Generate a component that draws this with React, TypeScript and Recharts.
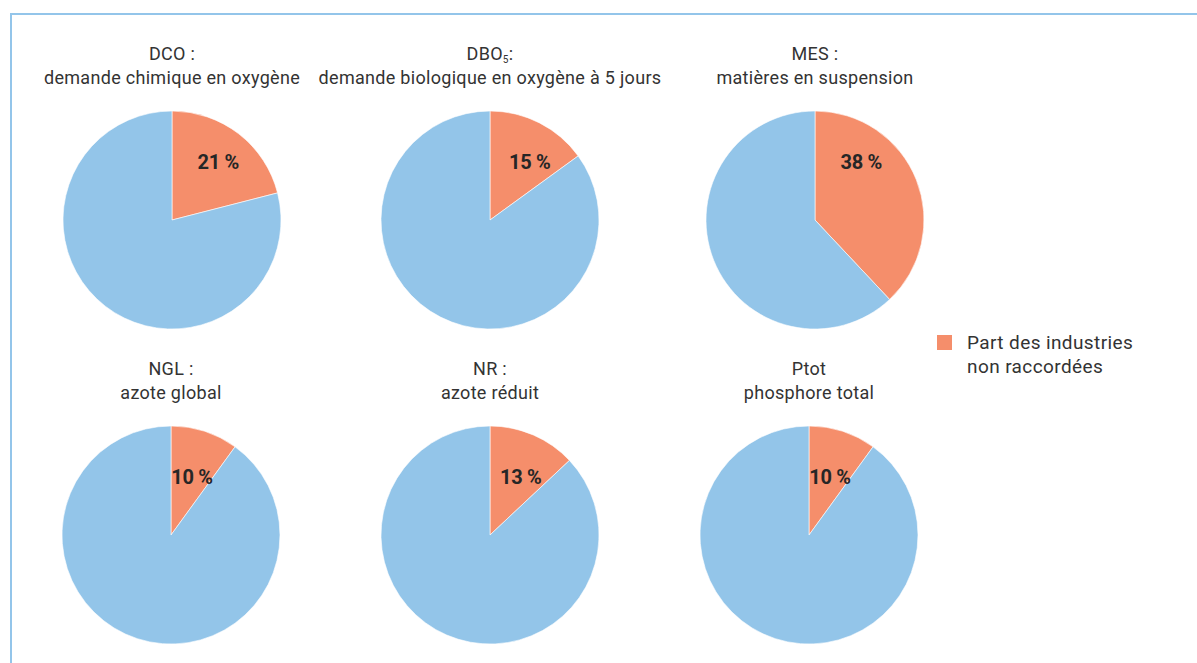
import React from "react";
import { PieChart, Pie, Cell, Legend } from "recharts";

// ---- Data ----
const pollutantCodes = ["DCO", "DBO5", "MES", "NGL", "NR", "Ptot"];
const titleFirstLines = ["DCO :", "DBO5:", "MES :", "NGL :", "NR :", "Ptot"];
const titleSecondLines = [
  "demande chimique en oxygène",
  "demande biologique en oxygène à 5 jours",
  "matières en suspension",
  "azote global",
  "azote réduit",
  "phosphore total",
];
const nonConnectedShare = [21, 15, 38, 10, 13, 10];
const sliceNames = ["Part des industries non raccordées", "Autres"];
const legendLines = ["Part des industries", "non raccordées"];

// ---- Styles / layout ----
const W = 1197;
const H = 663;
const ORANGE = "#f58e6b";
const BLUE = "#93c5e9";
const FRAME = "#93c5ea";
const FONT = "Roboto, 'Noto Sans', sans-serif";
const RADIUS = 109;
const centers = [
  [172, 220],
  [490, 220],
  [815, 220],
  [171, 535],
  [490, 535],
  [809, 535],
];

const renderLabel = (props: any) => {
  const { cx, cy, outerRadius, percent, index, value } = props;
  if (index !== 0) return null;
  const h = outerRadius * 0.53;
  const theta = percent * 2 * Math.PI;
  const chord = Math.sqrt(outerRadius * outerRadius - h * h);
  const right = theta < Math.PI / 2 ? Math.min(h * Math.tan(theta), chord) : chord;
  return (
    <text
      x={cx + right / 2}
      y={cy - h}
      textAnchor="middle"
      dominantBaseline="central"
      fill="#262626"
      fontFamily={FONT}
      fontWeight={700}
      fontSize={20}
      letterSpacing={-0.3}
    >
      {`${value} %`}
    </text>
  );
};

const LegendContent = () => (
  <div style={{ display: "flex", alignItems: "flex-start", fontFamily: FONT }}>
    <div style={{ width: 15, height: 15, background: ORANGE, marginTop: 4, marginRight: 15 }} />
    <div style={{ fontSize: 19, lineHeight: "24px", color: "#333", letterSpacing: 0.4, whiteSpace: "nowrap" }}>
      {legendLines.map((l, i) => (
        <div key={i}>{l}</div>
      ))}
    </div>
  </div>
);

function Title({ i }: { i: number }) {
  const [cx, cy] = centers[i];
  const first = titleFirstLines[i];
  const firstNode =
    first === "DBO5:" ? (
      <span>
        DBO<sub style={{ fontSize: 10, verticalAlign: "-3px", lineHeight: 0 }}>5</sub>:
      </span>
    ) : (
      first
    );
  return (
    <div
      style={{
        position: "absolute",
        left: cx - 200,
        width: 400,
        top: cy - 178,
        textAlign: "center",
        fontFamily: FONT,
        fontSize: 18,
        letterSpacing: 0.3,
        lineHeight: "24px",
        color: "#333",
        whiteSpace: "nowrap",
      }}
    >
      <div>{firstNode}</div>
      <div>{titleSecondLines[i]}</div>
    </div>
  );
}

export default function App() {
  return (
    <div style={{ position: "absolute", left: 0, top: 0, width: W, height: H, background: "#fff", overflow: "hidden" }}>
      <div
        style={{
          position: "absolute",
          left: 10,
          top: 13,
          width: W,
          height: H,
          borderTop: `2px solid ${FRAME}`,
          borderLeft: `2px solid ${FRAME}`,
        }}
      />
      <div style={{ position: "absolute", left: 0, top: 0 }}>
        <PieChart width={W} height={H} margin={{ top: 0, right: 0, bottom: 0, left: 0 }}>
          {pollutantCodes.map((code, i) => {
            const data = [
              { name: sliceNames[0], value: nonConnectedShare[i] },
              { name: sliceNames[1], value: 100 - nonConnectedShare[i] },
            ];
            return (
              <Pie
                key={code}
                data={data}
                dataKey="value"
                nameKey="name"
                cx={centers[i][0]}
                cy={centers[i][1]}
                outerRadius={RADIUS}
                startAngle={90}
                endAngle={-270}
                stroke="#ffffff"
                strokeWidth={0.6}
                label={renderLabel}
                labelLine={false}
                isAnimationActive={false}
              >
                <Cell fill={ORANGE} />
                <Cell fill={BLUE} />
              </Pie>
            );
          })}
          <Legend
            content={<LegendContent />}
            wrapperStyle={{ position: "absolute", left: 937, top: 331, width: 250, bottom: "auto" }}
          />
        </PieChart>
      </div>
      {pollutantCodes.map((c, i) => (
        <Title key={c} i={i} />
      ))}
    </div>
  );
}
